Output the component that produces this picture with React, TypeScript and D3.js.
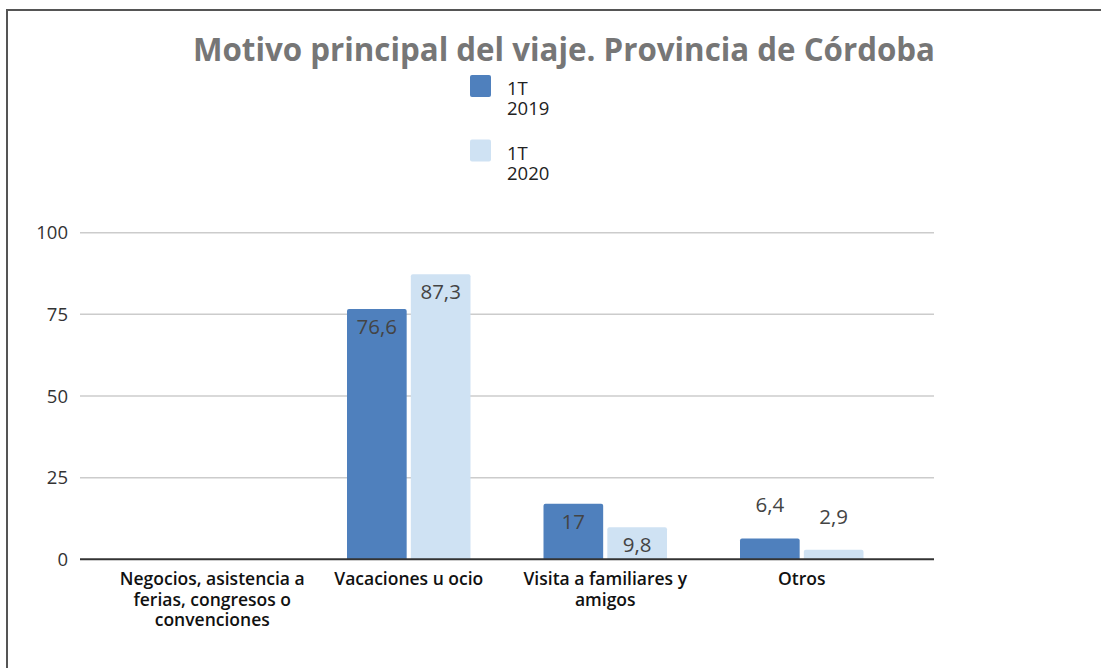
import React from "react";
import { scaleBand, scaleLinear } from "d3";

// chart data
const categories = [
  "Negocios, asistencia a ferias, congresos o convenciones",
  "Vacaciones u ocio",
  "Visita a familiares y amigos",
  "Otros",
];
const categoryLines = [
  ["Negocios, asistencia a", "ferias, congresos o", "convenciones"],
  ["Vacaciones u ocio"],
  ["Visita a familiares y", "amigos"],
  ["Otros"],
];
const seriesNames = ["1T 2019", "1T 2020"];
const values2019 = [null, 76.6, 17, 6.4];
const values2020 = [null, 87.3, 9.8, 2.9];
const yTicks = [0, 25, 50, 75, 100];

const colors = ["#4f80bd", "#cfe2f3"];
const font = "'Open Sans', sans-serif";

export default function App() {
  const width = 1101;
  const height = 668;

  const x = scaleBand().domain(categories).range([114, 900]);
  const xInner = scaleBand()
    .domain(seriesNames)
    .range([36.5, x.bandwidth() - 36.5])
    .paddingInner(0.065);
  const y = scaleLinear().domain([0, 100]).range([559.3, 232.7]);

  const series = [values2019, values2020];
  const fmt = (v: number) => String(v).replace(".", ",");

  return (
    <svg
      width={width}
      height={height}
      style={{ position: "absolute", left: 0, top: 0, background: "#fff" }}
      fontFamily={font}
    >
      {/* frame */}
      <rect x={7} y={10} width={1200} height={800} fill="none" stroke="#555" strokeWidth={2} />

      {/* title */}
      <text
        x={564}
        y={61}
        textAnchor="middle"
        fontSize={31.5}
        fontWeight={700}
        fill="#767676"
        textLength={742}
        lengthAdjust="spacingAndGlyphs"
      >
        Motivo principal del viaje. Provincia de Córdoba
      </text>

      {/* legend */}
      {seriesNames.map((s, i) => {
        const top = 75 + i * 64.5;
        const [a, b] = s.split(" ");
        return (
          <g key={s}>
            <rect x={470} y={top} width={21} height={22} rx={2} fill={colors[i]} />
            <text fontSize={18.5} fill="#222">
              <tspan x={507} y={top + 20}>{a}</tspan>
              <tspan x={507} y={top + 40}>{b}</tspan>
            </text>
          </g>
        );
      })}

      {/* grid */}
      {yTicks.map((t) => (
        <g key={t}>
          {t > 0 && (
            <line x1={80} x2={934} y1={y(t)} y2={y(t)} stroke="#cccccc" strokeWidth={1.5} />
          )}
          <text x={68} y={y(t) + 6.5} textAnchor="end" fontSize={18.5} fill="#333">
            {t}
          </text>
        </g>
      ))}

      {/* bars */}
      {categories.map((c, ci) =>
        series.map((vals, si) => {
          const v = vals[ci];
          if (v == null) return null;
          const bx = (x(c) as number) + (xInner(seriesNames[si]) as number);
          const bw = xInner.bandwidth();
          const top = y(v);
          const h = y(0) - top;
          const inside = h > 30;
          return (
            <g key={c + si}>
              <path
                d={`M${bx},${y(0)}V${top + 2}Q${bx},${top} ${bx + 2},${top}H${bx + bw - 2}Q${bx + bw},${top} ${bx + bw},${top + 2}V${y(0)}Z`}
                fill={colors[si]}
              />
              <text
                x={bx + bw / 2}
                y={inside ? top + 25 : top - 26}
                textAnchor="middle"
                fontSize={20.5}
                fill="#444"
              >
                {fmt(v)}
              </text>
            </g>
          );
        })
      )}

      {/* axis */}
      <line x1={80} x2={934} y1={y(0)} y2={y(0)} stroke="#333" strokeWidth={2} />

      {/* category labels */}
      {categories.map((c, ci) => (
        <text
          key={c}
          x={(x(c) as number) + x.bandwidth() / 2}
          y={585}
          textAnchor="middle"
          fontSize={17.5}
          fontWeight={600}
          fill="#111"
        >
          {categoryLines[ci].map((l, li) => (
            <tspan key={li} x={(x(c) as number) + x.bandwidth() / 2} dy={li === 0 ? 0 : 20.5}>
              {l}
            </tspan>
          ))}
        </text>
      ))}
    </svg>
  );
}
